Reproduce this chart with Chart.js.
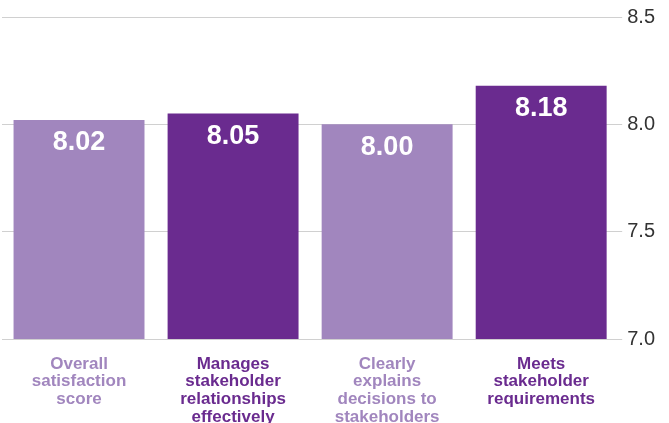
<!DOCTYPE html>
<html>
<head>
<meta charset="utf-8">
<script src="https://cdn.jsdelivr.net/npm/chart.js@4/dist/chart.umd.min.js"></script>
<style>
  html, body { margin: 0; padding: 0; background: #fff; }
  #wrap { width: 669px; height: 423px; position: relative; }
</style>
</head>
<body>
<div id="wrap"><canvas id="chart"></canvas></div>
<script>
const categories = [
  ["Overall", "satisfaction", "score"],
  ["Manages", "stakeholder", "relationships", "effectively"],
  ["Clearly", "explains", "decisions to", "stakeholders"],
  ["Meets", "stakeholder", "requirements"]
];
const scores = [8.02, 8.05, 8.00, 8.18];
const yTicks = [7.0, 7.5, 8.0, 8.5];

const lightPurple = "#a186be";
const darkPurple = "#6a2b8f";
const barColors = [lightPurple, darkPurple, lightPurple, darkPurple];

// draw the value inside the top of each bar
const valueLabels = {
  id: "valueLabels",
  afterDatasetsDraw(chart) {
    const ctx = chart.ctx;
    const meta = chart.getDatasetMeta(0);
    ctx.save();
    ctx.fillStyle = "#fff";
    ctx.font = "bold 27px 'Liberation Sans', Arial, sans-serif";
    ctx.textAlign = "center";
    ctx.textBaseline = "middle";
    meta.data.forEach((bar, i) => {
      ctx.fillText(scores[i].toFixed(2), bar.x, bar.y + 23);
    });
    ctx.restore();
  }
};

new Chart(document.getElementById("chart"), {
  type: "bar",
  data: {
    labels: categories,
    datasets: [{
      data: scores,
      backgroundColor: barColors,
      borderWidth: 0,
      barPercentage: 0.85,
      categoryPercentage: 1.0
    }]
  },
  options: {
    responsive: true,
    maintainAspectRatio: false,
    animation: false,
    layout: { padding: { top: 8, left: 2, right: 9, bottom: 0 } },
    plugins: {
      legend: { display: false },
      tooltip: { enabled: false }
    },
    scales: {
      x: {
        grid: { display: false },
        border: { display: false },
        afterFit: (scale) => { scale.height = 84; },
        ticks: {
          padding: 8,
          maxRotation: 0,
          autoSkip: false,
          color: (c) => barColors[c.index],
          font: {
            family: "'Liberation Sans', Arial, sans-serif",
            size: 17,
            weight: "bold",
            lineHeight: 1.04
          }
        }
      },
      y: {
        position: "right",
        min: 7.0,
        max: 8.5,
        afterBuildTicks: (axis) => { axis.ticks = yTicks.map(v => ({ value: v })); },
        grid: { color: "#d0d0d0", lineWidth: 1, tickLength: 4 },
        border: { display: false },
        ticks: {
          padding: 5,
          color: "#333",
          font: { family: "'Liberation Sans', Arial, sans-serif", size: 20 },
          callback: (v) => Number(v).toFixed(1)
        }
      }
    }
  },
  plugins: [valueLabels]
});
</script>
</body>
</html>
